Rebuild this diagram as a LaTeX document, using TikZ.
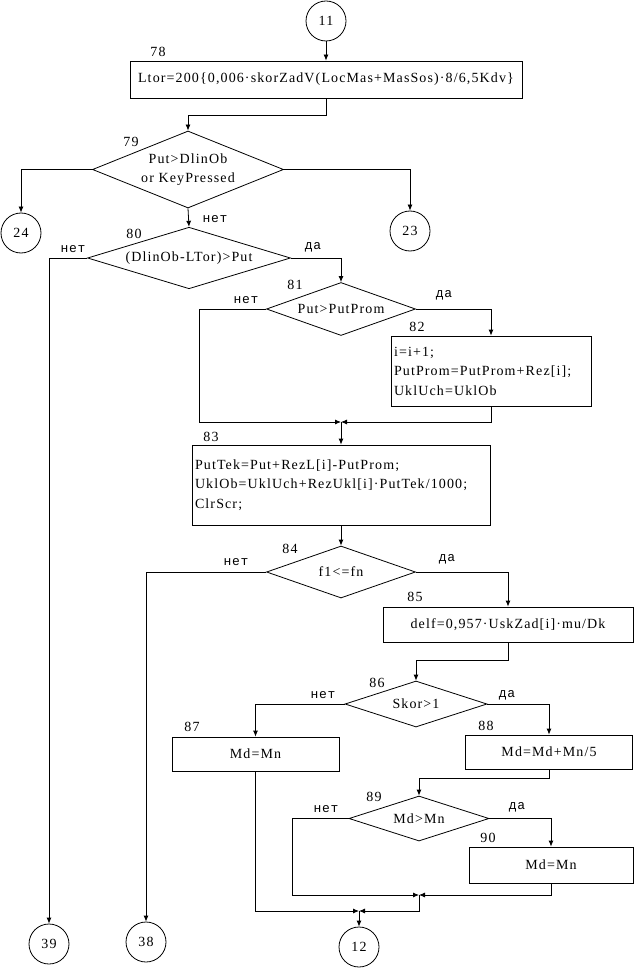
\documentclass[tikz,border=0pt]{standalone}
\usepackage{fontspec}
\setmainfont{Liberation Serif}[LetterSpace=8]
\newfontfamily\yesnofont{Liberation Mono}[LetterSpace=6]
\usetikzlibrary{arrows.meta,shapes.geometric}
\tikzset{
  txt/.style={font=\fontsize{14}{19.5}\selectfont},
  block/.style={draw,rectangle,inner sep=0pt,txt},
  cond/.style={draw,diamond,aspect=2.6,inner sep=0pt,align=center,txt},
  conn/.style={draw,circle,minimum size=40pt,inner sep=0pt,txt},
  num/.style={inner sep=0pt,txt},
  ans/.style={inner sep=0pt,font=\yesnofont\fontsize{13}{15}\selectfont},
  arr/.style={-{Latex[length=6pt,width=5pt]}}
}

\begin{document}
\begin{tikzpicture}[x=1pt,y=-1pt,line width=0.8pt]
  \useasboundingbox (0,0) rectangle (634,968);

  % connectors (off-page)
  \node[conn] (c11) at (326,21) {11};
  \node[conn] (c24) at (21,233) {24};
  \node[conn] (c23) at (410,231) {23};
  \node[conn] (c39) at (49,944) {39};
  \node[conn] (c38) at (146,942) {38};
  \node[conn] (c12) at (359,947) {12};

  % blocks
  \node[block,minimum width=392pt,minimum height=37pt] (b78) at (326,79.5)
    {Ltor=200\{0,006·skorZadV(LocMas+MasSos)·8/6,5Kdv\}};
  \node[block,minimum height=70pt,text width=194pt,align=left,inner xsep=3pt] (b82) at (491,371)
    {i=i+1;\\PutProm=PutProm+Rez[i];\\UklUch=UklOb};
  \node[block,minimum height=80pt,text width=292pt,align=left,inner xsep=3pt] (b83) at (341,485)
    {PutTek=Put+RezL[i]-PutProm;\\UklOb=UklUch+RezUkl[i]·PutTek/1000;\\ClrScr;};
  \node[block,minimum width=250pt,minimum height=35pt] (b85) at (508,624.5)
    {delf=0,957·UskZad[i]·mu/Dk};
  \node[block,minimum width=167pt,minimum height=34pt] (b87) at (255.5,754) {Md=Mn};
  \node[block,minimum width=167pt,minimum height=34pt] (b88) at (549,752) {Md=Md+Mn/5};
  \node[block,minimum width=164pt,minimum height=36pt] (b90) at (551,865) {Md=Mn};

  % decisions
  \node[cond,minimum width=191pt,minimum height=77pt] (d79) at (188,169.5) {Put>DlinOb\\or KeyPressed};
  \node[cond,minimum width=203pt,minimum height=57pt] (d80) at (189,258) {(DlinOb-LTor)>Put};
  \node[cond,minimum width=149pt,minimum height=53pt] (d81) at (341,309) {Put>PutProm};
  \node[cond,minimum width=149pt,minimum height=52pt] (d84) at (341,572) {f1<=fn};
  \node[cond,minimum width=142pt,minimum height=46pt] (d86) at (416,704) {Skor>1};
  \node[cond,minimum width=140pt,minimum height=45pt] (d89) at (419,818.5) {Md>Mn};

  % junctions
  \coordinate (j1) at (341,422);
  \coordinate (j2) at (419,895);
  \coordinate (j3) at (359,911);

  % block numbers
  \foreach \n/\x/\y in {78/158/52, 79/131/142, 80/134/234, 81/295/285, 82/417/327,
      83/211/437, 84/290/549, 85/415/597, 86/377/683, 87/192/727, 88/486/726,
      89/374/797, 90/488/838}
    \node[num] (n\n) at (\x,\y) {\n};

  % yes/no labels
  \node[ans] (no79) at (215,219) {нет};
  \node[ans] (no80) at (73,249) {нет};
  \node[ans] (yes80) at (313,247) {да};
  \node[ans] (no81) at (246,300) {нет};
  \node[ans] (yes81) at (444,295) {да};
  \node[ans] (no84) at (236,562) {нет};
  \node[ans] (yes84) at (447,559) {да};
  \node[ans] (no86) at (323,695) {нет};
  \node[ans] (yes86) at (507,695) {да};
  \node[ans] (no89) at (326,809) {нет};
  \node[ans] (yes89) at (517,807) {да};

  % flow lines
  \draw[arr] (c11) -- (b78);
  \draw[arr] (b78.south) -- ++(0,17) -| (d79.north);
  \draw[arr] (d79.west) -| (c24.north);
  \draw[arr] (d79.east) -| (c23.north);
  \draw[arr] (d79.south) -- (d80.north);
  \draw[arr] (d80.west) -| (c39.north);
  \draw[arr] (d80.east) -| (d81.north);
  \draw[arr] (d81.east) -| (b82.north);
  \draw[arr] (d81.west) -- ++(-67,0) |- (j1);
  \draw[arr] (b82.south) |- (j1);
  \draw[arr] (j1) -- (b83.north);
  \draw[arr] (b83.south) -- (d84.north);
  \draw[arr] (d84.west) -| (c38.north);
  \draw[arr] (d84.east) -| (b85.north);
  \draw[arr] (b85.south) -- ++(0,18) -| (d86.north);
  \draw[arr] (d86.west) -| (b87.north);
  \draw[arr] (d86.east) -| (b88.north);
  \draw[arr] (b88.south) -- ++(0,9) -| (d89.north);
  \draw[arr] (d89.east) -| (b90.north);
  \draw[arr] (d89.west) -- ++(-56,0) |- (j2);
  \draw[arr] (b90.south) |- (j2);
  \draw[arr] (j2) |- (j3);
  \draw[arr] (b87.south) |- (j3);
  \draw[arr] (j3) -- (c12.north);
\end{tikzpicture}
\end{document}
